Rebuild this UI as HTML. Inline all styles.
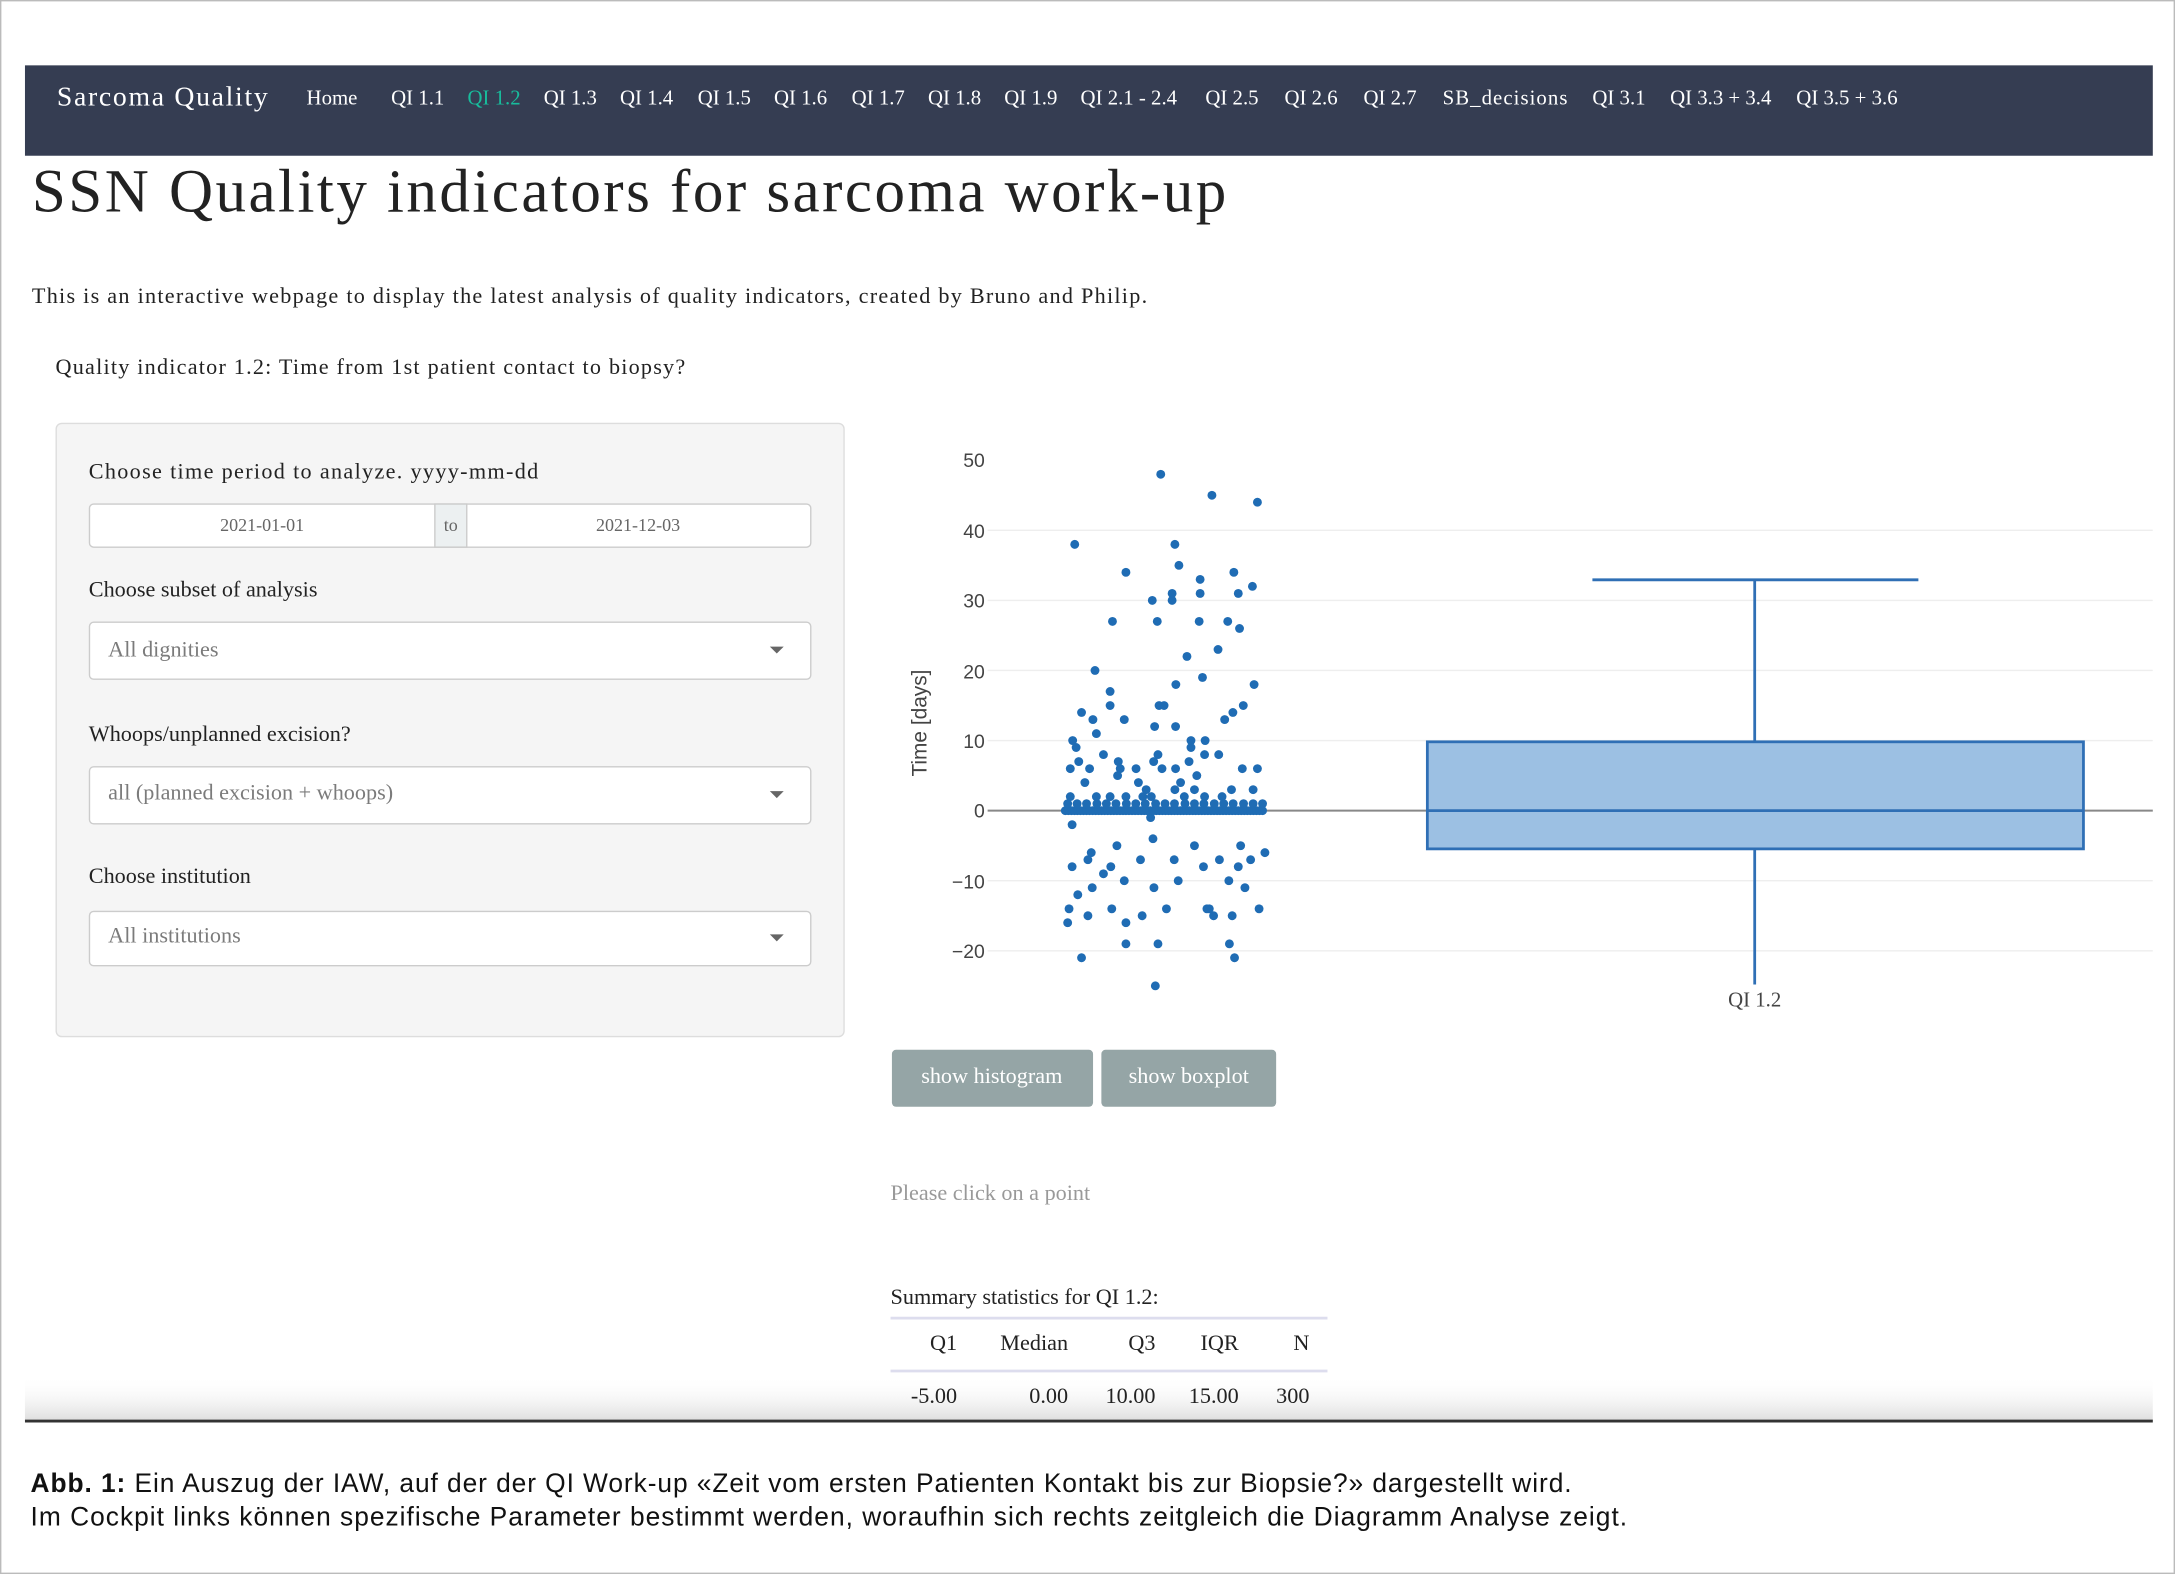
<!DOCTYPE html>
<html><head><meta charset="utf-8">
<style>
html,body{margin:0;padding:0;background:#fff;}
svg{display:block;}
.s{font-family:"Liberation Serif",serif;}
.a{font-family:"Liberation Sans","DejaVu Sans",sans-serif;}
</style></head>
<body>
<svg id="sv" width="2175" height="1574" viewBox="0 0 1568 1132" preserveAspectRatio="none" xmlns="http://www.w3.org/2000/svg">
<rect x="0.5" y="0.5" width="1567" height="1131" fill="#fff" stroke="#bbb"/>
<rect x="18" y="47" width="1534" height="65" fill="#353d52"/>
<g class="s" fill="#fff" font-size="15">
<text x="41" y="76" font-size="20" textLength="152">Sarcoma Quality</text>
<text x="221" y="75">Home</text>
<text x="282" y="75">QI 1.1</text>
<text x="337" y="75" fill="#18bc9c">QI 1.2</text>
<text x="392" y="75">QI 1.3</text>
<text x="447" y="75">QI 1.4</text>
<text x="503" y="75">QI 1.5</text>
<text x="558" y="75">QI 1.6</text>
<text x="614" y="75">QI 1.7</text>
<text x="669" y="75">QI 1.8</text>
<text x="724" y="75">QI 1.9</text>
<text x="779" y="75">QI 2.1 - 2.4</text>
<text x="869" y="75">QI 2.5</text>
<text x="926" y="75">QI 2.6</text>
<text x="983" y="75">QI 2.7</text>
<text x="1040" y="75" textLength="90">SB_decisions</text>
<text x="1148" y="75">QI 3.1</text>
<text x="1204" y="75">QI 3.3 + 3.4</text>
<text x="1295" y="75">QI 3.5 + 3.6</text>
</g>
<text class="s" x="23" y="152" font-size="44" fill="#222" textLength="861">SSN Quality indicators for sarcoma work-up</text>
<text class="s" x="23" y="218" font-size="16" fill="#222" textLength="804">This is an interactive webpage to display the latest analysis of quality indicators, created by Bruno and Philip.</text>
<text class="s" x="40" y="269" font-size="16" fill="#222" textLength="454">Quality indicator 1.2: Time from 1st patient contact to biopsy?</text>
<rect x="40.5" y="304.5" width="568" height="441" rx="4" fill="#f5f5f5" stroke="#ddd"/>
<g class="s" font-size="16" fill="#222">
<text x="64" y="344" textLength="324">Choose time period to analyze. yyyy-mm-dd</text>
<text x="64" y="429">Choose subset of analysis</text>
<text x="64" y="533">Whoops/unplanned excision?</text>
<text x="64" y="635">Choose institution</text>
</g>
<rect x="64.5" y="362.5" width="520" height="31" rx="3" fill="#fff" stroke="#ccc"/>
<rect x="313.5" y="362.5" width="23" height="31" fill="#ecf0f1" stroke="#ccc"/>
<g class="s" font-size="13" fill="#666" text-anchor="middle">
<text x="189" y="382">2021-01-01</text><text x="325" y="382">to</text><text x="460" y="382">2021-12-03</text>
</g>
<g class="s" font-size="16" fill="#7b7b7b">
<rect x="64.5" y="447.5" width="520" height="41" rx="3" fill="#fff" stroke="#ccc"/>
<text x="78" y="472">All dignities</text>
<rect x="64.5" y="551.5" width="520" height="41" rx="3" fill="#fff" stroke="#ccc"/>
<text x="78" y="575">all (planned excision + whoops)</text>
<rect x="64.5" y="655.5" width="520" height="39" rx="3" fill="#fff" stroke="#ccc"/>
<text x="78" y="678">All institutions</text>
</g>
<g fill="#666"><path d="M555 465h10l-5 5z"/><path d="M555 569h10l-5 5z"/><path d="M555 672h10l-5 5z"/></g>
<g stroke="#eee" stroke-width="1">
<line x1="712" x2="1552" y1="381.4" y2="381.4"/><line x1="712" x2="1552" y1="431.8" y2="431.8"/>
<line x1="712" x2="1552" y1="482.2" y2="482.2"/><line x1="712" x2="1552" y1="532.6" y2="532.6"/>
<line x1="712" x2="1552" y1="633.4" y2="633.4"/><line x1="712" x2="1552" y1="683.8" y2="683.8"/>
</g>
<line x1="712" x2="1552" y1="583" y2="583" stroke="#888" stroke-width="1.5"/>
<g class="a" font-size="14" fill="#444" text-anchor="end">
<text x="710" y="336">50</text><text x="710" y="387">40</text><text x="710" y="437">30</text>
<text x="710" y="488">20</text><text x="710" y="538">10</text><text x="710" y="588">0</text>
<text x="710" y="639">−10</text><text x="710" y="689">−20</text>
</g>
<text class="a" font-size="15" fill="#444" text-anchor="middle" transform="translate(668,520) rotate(-90)">Time [days]</text>
<rect x="1029" y="533.5" width="473" height="77" fill="#9cc0e3" stroke="#2f6fb5" stroke-width="2"/>
<g stroke="#2f6fb5" stroke-width="2">
<line x1="1029" x2="1502" y1="583" y2="583"/>
<line x1="1265" x2="1265" y1="417" y2="533"/>
<line x1="1265" x2="1265" y1="611" y2="708"/>
<line x1="1148" x2="1383" y1="417" y2="417"/>
</g>
<text class="s" x="1265" y="724" font-size="15" fill="#444" text-anchor="middle">QI 1.2</text>
<g id="pts" fill="#1f6cb4"></g>
<rect x="643" y="755" width="145" height="41" rx="3" fill="#95a5a6"/>
<rect x="794" y="755" width="126" height="41" rx="3" fill="#95a5a6"/>
<g class="s" font-size="16" fill="#fff" text-anchor="middle"><text x="715" y="779">show histogram</text><text x="857" y="779">show boxplot</text></g>
<text class="s" x="642" y="863" font-size="16" fill="#999">Please click on a point</text>
<text class="s" x="642" y="938" font-size="16" fill="#222">Summary statistics for QI 1.2:</text>
<line x1="642" x2="957" y1="948" y2="948" stroke="#dde" stroke-width="2"/>
<g class="s" font-size="16" fill="#222" text-anchor="end">
<text x="690" y="971">Q1</text><text x="770" y="971">Median</text><text x="833" y="971">Q3</text><text x="893" y="971">IQR</text><text x="944" y="971">N</text>
</g>
<line x1="642" x2="957" y1="986" y2="986" stroke="#dde" stroke-width="2"/>
<defs><linearGradient id="fd" x1="0" y1="0" x2="0" y2="1"><stop offset="0" stop-color="#fff" stop-opacity="0"/><stop offset="1" stop-color="#ddd"/></linearGradient></defs>
<rect x="18" y="990" width="1534" height="32" fill="url(#fd)"/>
<g class="s" font-size="16" fill="#222" text-anchor="end">
<text x="690" y="1009">-5.00</text><text x="770" y="1009">0.00</text><text x="833" y="1009">10.00</text><text x="893" y="1009">15.00</text><text x="944" y="1009">300</text>
</g>
<line x1="18" x2="1552" y1="1022" y2="1022" stroke="#333" stroke-width="2"/>
<g class="a" font-size="19" fill="#111">
<text x="22" y="1073" textLength="1111"><tspan font-weight="bold">Abb. 1:</tspan> Ein Auszug der IAW, auf der der QI Work-up  «Zeit vom ersten Patienten Kontakt bis zur Biopsie?» dargestellt wird.</text>
<text x="22" y="1097" textLength="1151">Im Cockpit links können spezifische Parameter bestimmt werden, woraufhin sich rechts zeitgleich die Diagramm Analyse zeigt.</text>
</g>
</svg>
<script>
var P=[[838,48],[990,45],[1125,44],[583,38],[880,38],[892,35],[735,34],[1055,34],[955,33],[872,31],[955,31],[1068,31],[1110,32],[813,30],[872,30],[695,27],[828,27],[952,27],[1037,27],[1072,26],[1008,23],[916,22],[962,19],[643,20],[883,18],[1115,18],[688,17],[688,15],[833,15],[848,15],[1083,15],[603,14],[1052,14],[637,13],[730,13],[1028,13],[647,11],[820,12],[882,12],[577,10],[928,10],[970,10],[587,9],[928,9],[668,8],[830,8],[968,8],[1010,8],[595,7],[712,7],[817,7],[922,7],[570,6],[627,6],[718,6],[765,6],[842,6],[882,6],[1080,6],[1125,6],[710,5],[945,5],[613,4],[772,4],[897,4],[795,3],[880,3],[938,3],[1048,3],[1112,3],[570,2],[647,2],[688,2],[735,2],[785,2],[810,2],[908,2],[968,2],[1020,2],
[575,-2],[808,-1],[815,-4],[708,-5],[938,-5],[1075,-5],[632,-6],[1147,-6],[622,-7],[778,-7],[878,-7],[1012,-7],[1105,-7],[575,-8],[690,-8],[965,-8],[1068,-8],[668,-9],[730,-10],[890,-10],[1040,-10],[635,-11],[818,-11],[1088,-11],[592,-12],[566,-14],[693,-14],[855,-14],[975,-14],[982,-14],[1130,-14],[622,-15],[783,-15],[995,-15],[1050,-15],[562,-16],[735,-16],[735,-19],[830,-19],[1042,-19],[603,-21],[1057,-21],[822,-25]];
for(var x=555;x<=1145;x+=9)P.push([x,0]);
for(var x=560;x<=1140;x+=29)P.push([x+(x%3),1]);
var g=document.getElementById('pts'),h='';
P.forEach(function(p){var cx=768+(p[0]-555)*0.243,cy=583-p[1]*5.04;
h+='<circle cx="'+cx.toFixed(1)+'" cy="'+cy.toFixed(1)+'" r="3.2"/>';});
g.innerHTML=h;
</script>
</body></html>
